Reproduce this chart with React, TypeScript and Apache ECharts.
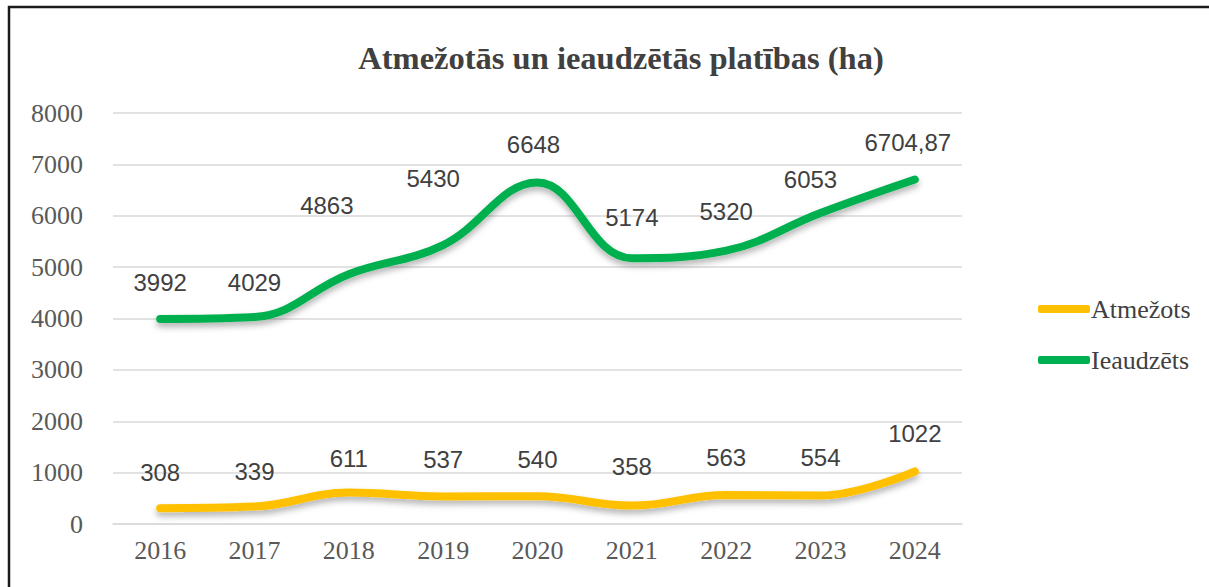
import React, { useEffect, useRef } from "react";
import * as echarts from "echarts";

const years = ["2016", "2017", "2018", "2019", "2020", "2021", "2022", "2023", "2024"];
const atmezots = [308, 339, 611, 537, 540, 358, 563, 554, 1022];
const ieaudzets = [3992, 4029, 4863, 5430, 6648, 5174, 5320, 6053, 6704.87];
const yTicks = { min: 0, max: 8000, interval: 1000 };

const greenOffsets: [number, number][] = [
  [0, 0], [0, 2], [-22, -33], [-10, -30], [-4, -2], [0, -5], [0, -3], [-10, 3], [-7, -1],
];
const yellowOffsets: [number, number][] = [
  [0, 0], [0, 1], [0, 2], [0, -1], [0, -1], [0, -3], [0, -2], [0, -2], [0, -2],
];

const FONT = "'Liberation Serif', 'DejaVu Serif', serif";
const LABEL_FONT = "'Liberation Sans', 'Noto Sans', sans-serif";

export default function App() {
  const ref = useRef<HTMLDivElement>(null);
  useEffect(() => {
    document.body.style.margin = "0";
    const chart = echarts.init(ref.current!, null, { renderer: "svg" });
    const fmt = (p: any) => String(p.value).replace(".", ",");
    const mkData = (vals: number[], offs: [number, number][]) =>
      vals.map((v, i) => ({ value: v, label: { offset: offs[i] } }));
    const lineLabel = {
      show: true, position: "top", distance: 24, formatter: fmt,
      fontFamily: LABEL_FONT, fontSize: 24, color: "#404040",
    };
    chart.setOption({
      animation: false,
      backgroundColor: "#fff",
      textStyle: { fontFamily: FONT },
      title: {
        text: "Atmežotās un ieaudzētās platības (ha)",
        left: 616,
        top: 36,
        textAlign: "center",
        textStyle: { fontFamily: FONT, fontSize: 32.5, fontWeight: "bold", color: "#404040" },
      },
      legend: {
        orient: "vertical",
        left: 1033,
        top: 291,
        itemWidth: 52,
        itemHeight: 8,
        itemGap: 25,
        icon: "roundRect",
        textStyle: { fontFamily: FONT, fontSize: 26, color: "#404040", padding: [0, 0, 0, -4] },
        data: ["Atmežots", "Ieaudzēts"],
      },
      grid: { left: 113, right: 1209 - 962, top: 113, bottom: 587 - 524 },
      xAxis: {
        type: "category",
        data: years,
        boundaryGap: true,
        axisLine: { lineStyle: { color: "#d9d9d9", width: 1.5 } },
        axisTick: { show: false },
        axisLabel: { fontFamily: FONT, fontSize: 26, color: "#595959", margin: 13 },
      },
      yAxis: {
        type: "value",
        min: yTicks.min,
        max: yTicks.max,
        interval: yTicks.interval,
        axisLine: { show: false },
        axisTick: { show: false },
        axisLabel: {
          fontFamily: FONT, fontSize: 26, color: "#595959", margin: 30,
          formatter: (v: number) => String(v),
        },
        splitLine: { lineStyle: { color: "#d9d9d9", width: 1.5 } },
      },
      series: [
        {
          name: "Atmežots",
          type: "line",
          smooth: 0.4,
          symbol: "circle",
          symbolSize: 0.1,
          showSymbol: true,
          data: mkData(atmezots, yellowOffsets),
          itemStyle: { color: "#FFC000" },
          lineStyle: {
            color: "#FFC000", width: 8, cap: "round",
            shadowColor: "rgba(0,0,0,0.3)", shadowBlur: 6, shadowOffsetY: 4,
          },
          label: lineLabel,
        },
        {
          name: "Ieaudzēts",
          type: "line",
          smooth: 0.4,
          symbol: "circle",
          symbolSize: 0.1,
          showSymbol: true,
          data: mkData(ieaudzets, greenOffsets),
          itemStyle: { color: "#00B050" },
          lineStyle: {
            color: "#00B050", width: 8, cap: "round",
            shadowColor: "rgba(0,0,0,0.3)", shadowBlur: 6, shadowOffsetY: 4,
          },
          label: lineLabel,
        },
      ],
      graphic: [
        {
          type: "rect",
          shape: { x: 9, y: 7, width: 1400, height: 800 },
          style: { fill: "none", stroke: "#1a1a1a", lineWidth: 2.5 },
          silent: true,
        },
      ],
    });
    return () => chart.dispose();
  }, []);
  return <div ref={ref} style={{ width: 1209, height: 587 }} />;
}
